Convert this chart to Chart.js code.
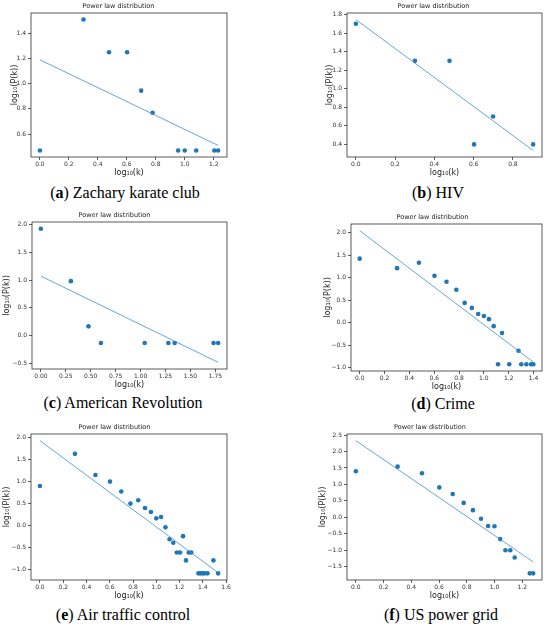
<!DOCTYPE html>
<html>
<head>
<meta charset="utf-8">
<script src="https://cdn.jsdelivr.net/npm/chart.js@4.4.1/dist/chart.umd.min.js"></script>
<style>
html, body { margin: 0; padding: 0; background: #fff; }
body { width: 550px; height: 628px; position: relative; overflow: hidden; }
canvas { position: absolute; }
.cap { position: absolute; font-family: "Liberation Serif", "DejaVu Serif", serif; font-size: 16px; line-height: 18px; color: #000; white-space: nowrap; transform: translateX(-50%); }
</style>
</head>
<body>
<canvas id="pa"></canvas><canvas id="pb"></canvas>
<canvas id="pc"></canvas><canvas id="pd"></canvas>
<canvas id="pe"></canvas><canvas id="pf"></canvas>
<div class="cap" style="left:125px;top:184px">(<b>a</b>) Zachary karate club</div>
<div class="cap" style="left:438px;top:184px">(<b>b</b>) HIV</div>
<div class="cap" style="left:123px;top:394px">(<b>c</b>) American Revolution</div>
<div class="cap" style="left:443px;top:395px">(<b>d</b>) Crime</div>
<div class="cap" style="left:123px;top:606px">(<b>e</b>) Air traffic control</div>
<div class="cap" style="left:441px;top:606px">(<b>f</b>) US power grid</div>
<script>
// log10(k) and log10(P(k)), fit = line value at first and last k
const karateX = [0, 0.301, 0.477, 0.602, 0.699, 0.778, 0.954, 1.0, 1.079, 1.204, 1.230];
const karateY = [0.47, 1.51, 1.25, 1.25, 0.945, 0.77, 0.47, 0.47, 0.47, 0.47, 0.47];
const karateFit = [1.19, 0.51];
const karateXTicks = [0, 0.2, 0.4, 0.6, 0.8, 1.0, 1.2];
const karateYTicks = [0.6, 0.8, 1.0, 1.2, 1.4];

const hivX = [0, 0.301, 0.477, 0.602, 0.699, 0.903];
const hivY = [1.70, 1.30, 1.30, 0.40, 0.70, 0.40];
const hivFit = [1.745, 0.335];
const hivXTicks = [0, 0.2, 0.4, 0.6, 0.8];
const hivYTicks = [0.4, 0.6, 0.8, 1.0, 1.2, 1.4, 1.6, 1.8];

const revX = [0, 0.301, 0.477, 0.602, 1.041, 1.279, 1.342, 1.732, 1.778];
const revY = [1.92, 0.98, 0.17, -0.13, -0.13, -0.13, -0.13, -0.13, -0.13];
const revFit = [1.07, -0.475];
const revXTicks = [0, 0.25, 0.5, 0.75, 1.0, 1.25, 1.5, 1.75];
const revYTicks = [-0.5, 0, 0.5, 1.0, 1.5, 2.0];

const crimeX = [0, 0.301, 0.477, 0.602, 0.699, 0.778, 0.845, 0.903, 0.954, 1.0, 1.041, 1.079, 1.114, 1.146, 1.204, 1.279, 1.301, 1.342, 1.380, 1.398];
const crimeY = [1.42, 1.21, 1.33, 1.04, 0.91, 0.73, 0.44, 0.33, 0.195, 0.15, 0.08, -0.075, -0.92, -0.225, -0.92, -0.62, -0.92, -0.92, -0.92, -0.92];
const crimeFit = [2.04, -0.87];
const crimeXTicks = [0, 0.2, 0.4, 0.6, 0.8, 1.0, 1.2, 1.4];
const crimeYTicks = [-1.0, -0.5, 0, 0.5, 1.0, 1.5, 2.0];

const airX = [0, 0.301, 0.477, 0.602, 0.699, 0.778, 0.845, 0.903, 0.954, 1.0, 1.041, 1.079, 1.114, 1.146, 1.176, 1.204, 1.230, 1.255, 1.279, 1.301, 1.362, 1.380, 1.398, 1.415, 1.44, 1.491, 1.531];
const airY = [0.90, 1.63, 1.15, 1.00, 0.775, 0.50, 0.575, 0.40, 0.31, 0.165, 0.195, -0.04, -0.31, -0.39, -0.61, -0.61, -0.24, -0.79, -0.61, -0.61, -1.085, -1.085, -1.085, -1.085, -1.085, -0.79, -1.085];
const airFit = [1.93, -1.07];
const airXTicks = [0, 0.2, 0.4, 0.6, 0.8, 1.0, 1.2, 1.4, 1.6];
const airYTicks = [-1.0, -0.5, 0, 0.5, 1.0, 1.5, 2.0];

const gridX = [0, 0.301, 0.477, 0.602, 0.699, 0.778, 0.845, 0.903, 0.954, 1.0, 1.041, 1.079, 1.114, 1.146, 1.255, 1.279];
const gridY = [1.40, 1.54, 1.34, 0.91, 0.71, 0.44, 0.22, -0.04, -0.26, -0.27, -0.66, -1.0, -1.0, -1.22, -1.70, -1.70];
const gridFit = [2.33, -1.35];
const gridXTicks = [0, 0.2, 0.4, 0.6, 0.8, 1.0, 1.2];
const gridYTicks = [-1.5, -1.0, -0.5, 0, 0.5, 1.0, 1.5, 2.0, 2.5];

const BLUE = '#1f77b4';
const FONT = "'DejaVu Sans', sans-serif";
const TITLE_H = 6.5 * 1.2 + 3;
const X_AXIS_H = 21;

const framePlugin = {
    id: 'frame',
    afterDraw(chart) {
        const { ctx, chartArea: a } = chart;
        ctx.save();
        ctx.strokeStyle = '#333';
        ctx.lineWidth = 0.8;
        ctx.strokeRect(a.left, a.top, a.right - a.left, a.bottom - a.top);
        ctx.restore();
    }
};

// matplotlib style 5% margins around everything plotted
const padRange = (vals) => {
    const lo = Math.min(...vals), hi = Math.max(...vals), m = (hi - lo) * 0.05;
    return [lo - m, hi + m];
};

const fmt = (dec) => (v) => Number(v).toFixed(dec).replace('-', '\u2212');

function panel(id, p) {
    const canvas = document.getElementById(id);
    const h = p.plot.b + X_AXIS_H + 2 - p.cell.y;
    canvas.width = 275;
    canvas.height = h;
    canvas.style.left = p.cell.x + 'px';
    canvas.style.top = p.cell.y + 'px';
    canvas.style.width = '275px';
    canvas.style.height = h + 'px';

    const xr = padRange(p.x);
    const yr = padRange(p.y.concat(p.fit));
    const last = p.x[p.x.length - 1];

    const axis = (ticks, dec, range, title, isX) => ({
        type: 'linear',
        min: range[0],
        max: range[1],
        afterBuildTicks: (s) => { s.ticks = ticks.map((v) => ({ value: v })); },
        afterFit: (s) => { if (isX) s.height = X_AXIS_H; else s.width = p.yW; },
        grid: { display: true, drawOnChartArea: false, drawTicks: true, tickLength: 3, color: '#333', lineWidth: 0.8 },
        border: { display: false },
        ticks: { callback: fmt(dec), color: '#333', padding: isX ? 1 : 2, maxRotation: 0, autoSkip: false, font: { family: FONT, size: 6 } },
        title: { display: true, text: title, color: '#222', padding: 0, font: { family: FONT, size: 8 } }
    });

    new Chart(canvas, {
        type: 'scatter',
        data: {
            datasets: [{
                data: p.x.map((x, i) => ({ x, y: p.y[i] })),
                backgroundColor: BLUE,
                borderWidth: 0,
                pointRadius: 2.3,
                order: 2
            }, {
                data: [{ x: p.x[0], y: p.fit[0] }, { x: last, y: p.fit[1] }],
                showLine: true,
                borderColor: '#3d8fd0',
                borderWidth: 0.8,
                pointRadius: 0,
                order: 1
            }]
        },
        options: {
            responsive: false,
            animation: false,
            layout: {
                padding: {
                    left: p.plot.l - p.cell.x - p.yW,
                    top: p.plot.t - p.cell.y - TITLE_H,
                    right: p.cell.x + 275 - p.plot.r,
                    bottom: 2
                }
            },
            plugins: {
                legend: { display: false },
                tooltip: { enabled: false },
                title: { display: true, text: 'Power law distribution', color: '#222', padding: { top: 0, bottom: 3 }, font: { family: FONT, size: 6.5, weight: 'normal' } }
            },
            scales: {
                x: axis(p.xt, p.xDec, xr, 'log\u2081\u2080(k)', true),
                y: axis(p.yt, p.yDec, yr, 'log\u2081\u2080(P(k))', false)
            }
        },
        plugins: [framePlugin]
    });
}

panel('pa', { x: karateX, y: karateY, fit: karateFit, xt: karateXTicks, yt: karateYTicks, xDec: 1, yDec: 1,
    cell: { x: 0, y: 0 }, plot: { l: 31, t: 13, r: 227, b: 157 }, yW: 21 });
panel('pb', { x: hivX, y: hivY, fit: hivFit, xt: hivXTicks, yt: hivYTicks, xDec: 1, yDec: 1,
    cell: { x: 275, y: 0 }, plot: { l: 347, t: 13, r: 542, b: 157 }, yW: 22 });
panel('pc', { x: revX, y: revY, fit: revFit, xt: revXTicks, yt: revYTicks, xDec: 2, yDec: 1,
    cell: { x: 0, y: 209 }, plot: { l: 32, t: 222, r: 227, b: 369 }, yW: 30 });
panel('pd', { x: crimeX, y: crimeY, fit: crimeFit, xt: crimeXTicks, yt: crimeYTicks, xDec: 1, yDec: 1,
    cell: { x: 275, y: 209 }, plot: { l: 351, t: 224, r: 542, b: 371 }, yW: 28 });
panel('pe', { x: airX, y: airY, fit: airFit, xt: airXTicks, yt: airYTicks, xDec: 1, yDec: 1,
    cell: { x: 0, y: 420 }, plot: { l: 31, t: 434, r: 227, b: 580 }, yW: 29 });
panel('pf', { x: gridX, y: gridY, fit: gridFit, xt: gridXTicks, yt: gridYTicks, xDec: 1, yDec: 1,
    cell: { x: 275, y: 420 }, plot: { l: 347, t: 434, r: 542, b: 580 }, yW: 29 });
</script>
</body>
</html>
